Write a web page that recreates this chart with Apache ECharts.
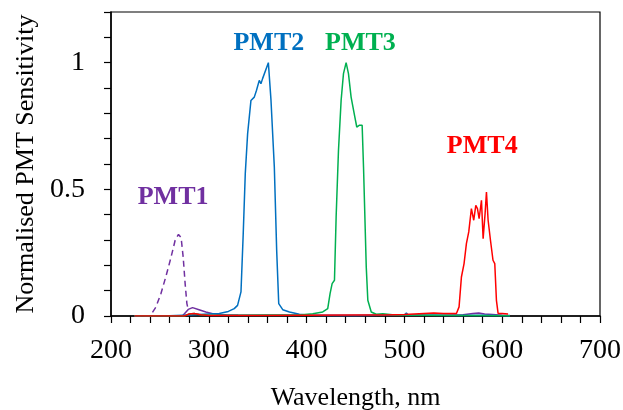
<!DOCTYPE html>
<html>
<head>
<meta charset="utf-8">
<script src="https://cdn.jsdelivr.net/npm/echarts@6/dist/echarts.min.js"></script>
<style>
html,body{margin:0;padding:0;background:#fff;}
#chart{width:623px;height:410px;}
</style>
</head>
<body>
<div id="chart"></div>
<script>
// ---- data ----
const pmt1DashX = [224, 240, 241, 246, 251, 256, 261, 265.6, 269, 271.7, 273.8, 275.8, 277.6, 279.2];
const pmt1DashY = [0, 0, 0.002, 0.036, 0.088, 0.154, 0.226, 0.299, 0.322, 0.309, 0.233, 0.128, 0.049, 0.022];

const pmt1SolidX = [273, 279, 283.4, 290, 297, 304, 312, 318, 330, 360, 400, 450, 500, 520, 540, 560, 570, 576, 582, 590, 600, 608];
const pmt1SolidY = [0, 0.026, 0.033, 0.025, 0.016, 0.009, 0.006, 0.005, 0.004, 0.003, 0.003, 0.002, 0.004, 0.003, 0.003, 0.005, 0.01, 0.012, 0.008, 0.006, 0.003, 0.002];

const pmt2X = [224, 260, 280, 300, 310.7, 320, 326, 329.4, 332.9, 335.2, 337.3, 339.7, 343.1, 346.5, 348.8, 351.6, 353.3, 355, 360.9, 363.6, 367, 369.4, 371.5, 375.6, 382.5, 392.6, 402.9, 420, 450, 500, 502, 504, 550, 580, 608];
const pmt2Y = [0, 0.001, 0.004, 0.008, 0.01, 0.018, 0.029, 0.042, 0.095, 0.325, 0.562, 0.72, 0.851, 0.864, 0.891, 0.93, 0.917, 0.937, 1.0, 0.851, 0.588, 0.259, 0.049, 0.025, 0.016, 0.007, 0.003, 0.002, 0.002, 0.004, 0.012, 0.004, 0.002, 0.003, 0.001];

const pmt3X = [224, 275, 280, 285, 290, 300, 330, 360, 380, 392.6, 406.3, 416.5, 421.6, 424, 426.1, 428.5, 430.2, 432.6, 435.3, 437.7, 440.4, 442.8, 445.5, 449, 451.3, 454.1, 456.8, 458.2, 461, 462.6, 466.1, 471.2, 478, 490, 520, 560, 608];
const pmt3Y = [0, 0, 0.008, 0.01, 0.006, 0.003, 0.003, 0.004, 0.004, 0.004, 0.009, 0.016, 0.029, 0.088, 0.128, 0.141, 0.391, 0.654, 0.851, 0.957, 1.0, 0.957, 0.864, 0.792, 0.746, 0.753, 0.753, 0.588, 0.193, 0.062, 0.016, 0.007, 0.009, 0.004, 0.003, 0.002, 0.001];

const pmt4X = [224, 275, 280, 285, 292, 300, 350, 400, 450, 480, 500, 510, 520, 530, 540, 550, 553.2, 555.9, 558.3, 561, 563.4, 565.8, 568.5, 570.9, 573, 574.7, 576.4, 578.8, 580.5, 582.5, 583.9, 585.6, 588, 590.6, 592.4, 594.1, 595.8, 600, 606];
const pmt4Y = [0, 0, 0.008, 0.01, 0.005, 0.002, 0.002, 0.003, 0.004, 0.004, 0.006, 0.008, 0.01, 0.012, 0.01, 0.01, 0.01, 0.036, 0.154, 0.207, 0.286, 0.332, 0.424, 0.378, 0.437, 0.424, 0.384, 0.457, 0.305, 0.404, 0.489, 0.378, 0.299, 0.22, 0.207, 0.062, 0.01, 0.01, 0.008];

const labelNames = ['PMT1', 'PMT2', 'PMT3', 'PMT4'];
const labelX = [263.5, 361.4, 455.1, 579.6];
const labelY = [0.468, 1.076, 1.076, 0.67];
const colors = ['#7030A0', '#0070C0', '#00B050', '#FF0000'];

const xTicks = [200, 300, 400, 500, 600, 700];
const yTickLabels = ['0', '0.5', '1'];

// ---- chart ----
const zip = (xs, ys) => xs.map((x, i) => [x, ys[i]]);
const FONT = '"Liberation Serif", "Times New Roman", serif';

const chart = echarts.init(document.getElementById('chart'), null, {renderer: 'canvas'});

function lineSeries(name, xs, ys, color, dashed) {
  return {
    name, type: 'line', data: zip(xs, ys), symbol: 'none', smooth: false,
    lineStyle: {color, width: 1.5, type: dashed ? [6, 4] : 'solid'},
    z: 3
  };
}

const option = {
  animation: false,
  backgroundColor: '#fff',
  grid: {left: 111, right: 23, top: 12, bottom: 94, show: true, borderColor: '#000', borderWidth: 1.2,
         containLabel: false, outerBoundsMode: 'none'},
  xAxis: {
    type: 'value', min: xTicks[0], max: xTicks[xTicks.length - 1], interval: 100,
    name: 'Wavelength, nm', nameLocation: 'middle', nameGap: 69,
    nameTextStyle: {fontFamily: FONT, fontSize: 26, color: '#000'},
    axisLine: {lineStyle: {color: '#000', width: 1.5}},
    axisTick: {show: true, inside: false, length: 7, lineStyle: {color: '#000', width: 1.2}},
    minorTick: {show: true, splitNumber: 5, length: 7, lineStyle: {color: '#000', width: 1.2}},
    axisLabel: {fontFamily: FONT, fontSize: 28, color: '#000', margin: 21},
    splitLine: {show: false}
  },
  yAxis: {
    type: 'value', min: 0, max: 1.2, interval: 0.1,
    name: 'Normalised PMT Sensitivity', nameLocation: 'middle', nameGap: 67,
    nameTextStyle: {fontFamily: FONT, fontSize: 26, color: '#000'},
    axisLine: {show: true, lineStyle: {color: '#000', width: 1.5}},
    axisTick: {show: true, inside: false, length: 7, lineStyle: {color: '#000', width: 1.2}},
    axisLabel: {
      fontFamily: FONT, fontSize: 28, color: '#000', margin: 26,
      formatter: function (v) {
        const r = Math.round(v * 10) / 10;
        if (r === 0) return yTickLabels[0];
        if (r === 0.5) return yTickLabels[1];
        if (r === 1) return yTickLabels[2];
        return '';
      }
    },
    splitLine: {show: false}
  },
  series: [
    lineSeries('PMT1 dashed', pmt1DashX, pmt1DashY, colors[0], true),
    lineSeries('PMT1', pmt1SolidX, pmt1SolidY, colors[0], false),
    lineSeries('PMT2', pmt2X, pmt2Y, colors[1], false),
    lineSeries('PMT3', pmt3X, pmt3Y, colors[2], false),
    lineSeries('PMT4', pmt4X, pmt4Y, colors[3], false),
    {
      type: 'scatter', symbolSize: 0, silent: true, z: 5,
      itemStyle: {opacity: 1},
      data: labelNames.map((n, i) => ({
        name: n, value: [labelX[i], labelY[i]],
        label: {color: colors[i]}
      })),
      label: {
        show: true, position: 'inside', formatter: '{b}', opacity: 1,
        fontFamily: FONT, fontSize: 26, fontWeight: 'bold'
      }
    }
  ]
};
chart.setOption(option);
</script>
</body>
</html>
